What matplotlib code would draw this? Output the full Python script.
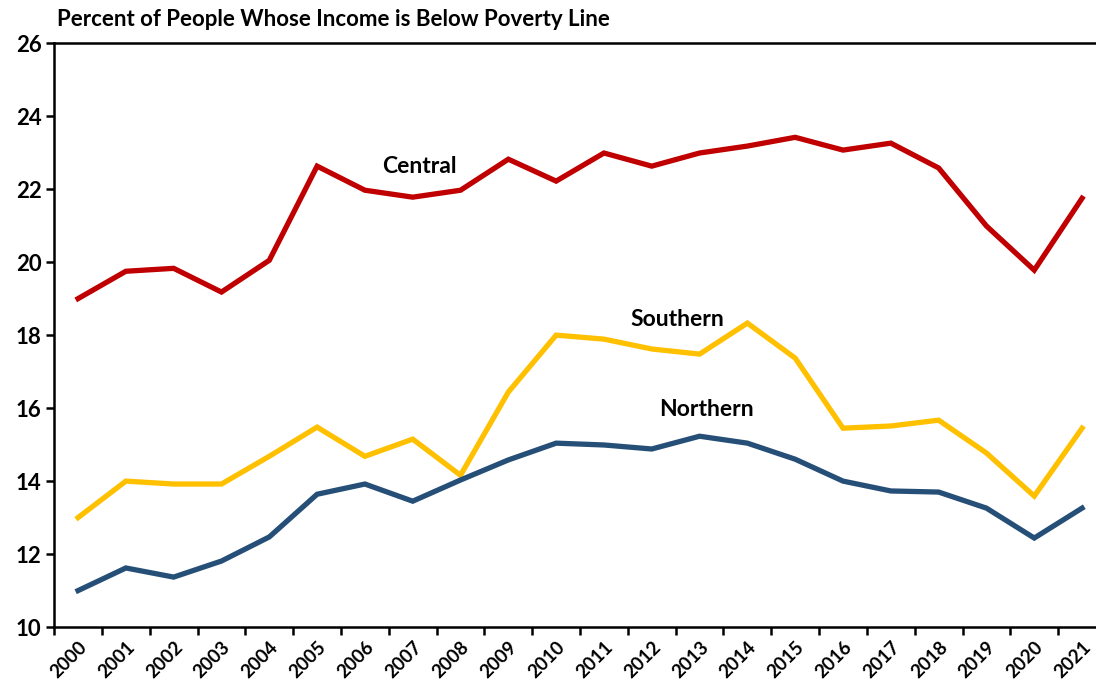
import matplotlib.pyplot as plt
import numpy as np

years = [str(y) for y in range(2000, 2022)]

central = [19.0, 19.75, 19.83, 19.18, 20.05, 22.63, 21.97, 21.78, 21.97, 22.82, 22.22,
           22.99, 22.63, 22.99, 23.18, 23.42, 23.07, 23.26, 22.58, 20.99, 19.78, 21.75]
southern = [13.0, 14.0, 13.92, 13.92, 14.68, 15.48, 14.68, 15.15, 14.16, 16.44, 18.0,
            17.89, 17.62, 17.48, 18.33, 17.37, 15.45, 15.51, 15.67, 14.77, 13.59, 15.45]
northern = [11.0, 11.62, 11.37, 11.81, 12.47, 13.64, 13.92, 13.45, 14.03, 14.58, 15.04,
            14.99, 14.88, 15.23, 15.04, 14.6, 14.0, 13.73, 13.7, 13.26, 12.44, 13.26]

plt.rcParams['font.family'] = ['Lato', 'DejaVu Sans']

fig = plt.figure(figsize=(10.96, 6.96), dpi=100)
# right edge sits just past the figure, as in the cropped original
ax = fig.add_axes([0.0494, 0.099, 0.9597, 0.839])

x = np.arange(len(years))
ax.plot(x, central, color='#C00000', lw=3.8, solid_joinstyle='miter')
ax.plot(x, southern, color='#FFC000', lw=3.8, solid_joinstyle='miter')
ax.plot(x, northern, color='#264F78', lw=3.8, solid_joinstyle='miter')

ax.text(7.13, 22.63, 'Central', ha='center', va='center', fontsize=16.5, fontweight='bold')
ax.text(12.53, 18.44, 'Southern', ha='center', va='center', fontsize=16.5, fontweight='bold')
ax.text(13.14, 15.95, 'Northern', ha='center', va='center', fontsize=16.5, fontweight='bold')

ax.set_xlim(-0.5, len(years) - 0.5)
ax.set_ylim(10, 26)
ax.set_yticks(range(10, 27, 2))
ax.set_yticklabels([str(v) for v in range(10, 27, 2)], fontsize=16, fontweight='bold')

ax.set_xticks(x)
ax.set_xticklabels(years, rotation=45, ha='right', rotation_mode='anchor',
                   fontsize=13.5, fontweight='bold')
ax.set_xticks(np.arange(-0.5, len(years)), minor=True)
ax.tick_params(axis='x', which='major', length=0, pad=8)
ax.tick_params(axis='x', which='minor', length=6, width=1.8, direction='out')
ax.tick_params(axis='y', length=6, width=1.8, direction='out', pad=3)

for s in ax.spines.values():
    s.set_linewidth(1.8)
ax.spines['right'].set_visible(False)

fig.text(0.052, 0.972, 'Percent of People Whose Income is Below Poverty Line',
         ha='left', va='center', fontsize=16, fontweight='bold')

fig.savefig('out.png', dpi=100)
